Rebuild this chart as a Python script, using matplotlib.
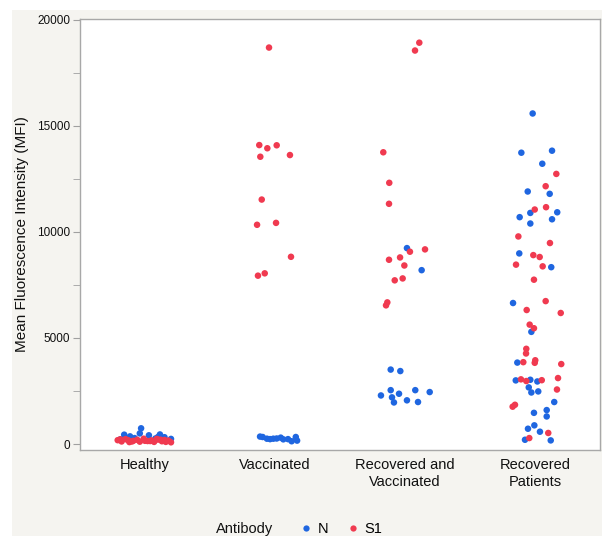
import matplotlib
matplotlib.use("Agg")
import matplotlib.pyplot as plt
from matplotlib.lines import Line2D
from matplotlib.patches import Rectangle
from matplotlib.ticker import MultipleLocator

plt.rcParams["font.family"] = ["Liberation Sans", "DejaVu Sans"]

groups = ["Healthy", "Vaccinated", "Recovered and\nVaccinated", "Recovered\nPatients"]
series = ["N", "S1"]
colors = {"N": "#1f66e0", "S1": "#f03a50"}

# values (MFI), with horizontal jitter in category units
healthy_n = [440, 360, 740, 500, 410, 450, 320, 220, 260, 240, 330, 280]
healthy_n_jit = [-0.16, -0.115, -0.03, -0.04, 0.03, 0.115, 0.15, -0.19, 0.08, 0.20, 0.10, -0.08]
healthy_s1 = [180, 120, 230, 90, 150, 200, 110, 250, 140, 170, 100, 210,
              130, 190, 160, 80, 220, 120, 150, 240, 100, 180, 140, 200]
healthy_s1_jit = [-0.21, -0.18, -0.15, -0.12, -0.09, -0.06, -0.04, -0.01, 0.02, 0.05, 0.07, 0.10,
                  0.13, 0.15, 0.18, 0.20, -0.19, -0.10, 0.0, 0.09, 0.16, -0.13, 0.04, 0.12]

vacc_n = [350, 330, 250, 230, 250, 260, 300, 220, 230, 130, 330, 160]
vacc_n_jit = [-0.115, -0.095, -0.062, -0.038, -0.013, 0.013, 0.044, 0.064, 0.10, 0.128, 0.16, 0.17]
vacc_s1 = [18700, 14100, 13950, 14090, 13550, 13630, 11530, 10340, 10430, 8830, 7940, 8050]
vacc_s1_jit = [-0.046, -0.121, -0.059, 0.013, -0.113, 0.115, -0.102, -0.138, 0.008, 0.123, -0.131, -0.079]

recvac_n = [9240, 8200, 3510, 3440, 2540, 2540, 2450, 2290, 2370, 2200, 1960, 2060, 1980]
recvac_n_jit = [0.015, 0.128, -0.11, -0.036, -0.11, 0.079, 0.19, -0.185, -0.046, -0.10, -0.085, 0.015, 0.10]
recvac_s1 = [18930, 18560, 13760, 12320, 11330, 9180, 9070, 8800, 8690, 8420, 7810, 7720, 6680, 6540]
recvac_s1_jit = [0.11, 0.077, -0.167, -0.121, -0.123, 0.154, 0.038, -0.038, -0.123, -0.005,
                 -0.018, -0.079, -0.136, -0.146]

recpat_n = [15590, 13740, 13835, 13220, 11910, 11800, 10930, 10900, 10700, 10600, 10400,
            8990, 8340, 6650, 5290, 3840, 3000, 3030, 2950, 2670, 2430, 2480, 1980, 1600,
            1470, 1300, 880, 720, 580, 200, 170]
recpat_n_jit = [-0.018, -0.105, 0.131, 0.056, -0.056, 0.113, 0.171, -0.036, -0.118, 0.131, -0.036,
                -0.121, 0.125, -0.169, -0.028, -0.136, -0.148, -0.036, 0.018, -0.048, -0.028, 0.025,
                0.148, 0.09, -0.008, 0.09, -0.005, -0.054, 0.038, -0.077, 0.121]
recpat_s1 = [12740, 12160, 11170, 11060, 9790, 9480, 8910, 8820, 8460, 8380, 7750, 6740,
             6320, 6180, 5630, 5460, 4490, 4270, 3950, 3830, 3860, 3770, 3050, 2970, 3010,
             3110, 2570, 1850, 1760, 520, 280]
recpat_s1_jit = [0.164, 0.082, 0.085, -0.002, -0.128, 0.115, -0.013, 0.036, -0.146, 0.059, -0.008,
                 0.082, -0.064, 0.198, -0.041, -0.008, -0.067, -0.069, 0.002, -0.002, -0.09, 0.202,
                 -0.108, -0.067, 0.052, 0.177, 0.169, -0.154, -0.172, 0.102, -0.044]

data_n = [(healthy_n, healthy_n_jit), (vacc_n, vacc_n_jit),
          (recvac_n, recvac_n_jit), (recpat_n, recpat_n_jit)]
data_s1 = [(healthy_s1, healthy_s1_jit), (vacc_s1, vacc_s1_jit),
           (recvac_s1, recvac_s1_jit), (recpat_s1, recpat_s1_jit)]


fig = plt.figure(figsize=(6.02, 5.36), dpi=100, facecolor="white")
# light grey panel behind the plot
fig.patches.append(Rectangle((12 / 602, 0), 590 / 602, 526 / 536, transform=fig.transFigure,
                             facecolor="#f5f4f0", edgecolor="none", zorder=-10))

ax = fig.add_axes([80 / 602, 86 / 536, 520 / 602, 431 / 536])
ax.set_facecolor("white")

for name, groups_data in (("N", data_n), ("S1", data_s1)):
    for i, (vals, jit) in enumerate(groups_data):
        ax.scatter([i + j for j in jit], vals, s=22, color=colors[name],
                   edgecolors="none", zorder=3)

ax.set_xlim(-0.5, 3.5)
ax.set_ylim(-283, 20047)
ax.set_xticks(range(len(groups)))
ax.set_xticklabels(groups, fontsize=10.5, color="#111111")
ax.yaxis.set_major_locator(MultipleLocator(5000))
ax.yaxis.set_minor_locator(MultipleLocator(2500))
ax.tick_params(axis="x", length=0, pad=6)
ax.tick_params(axis="y", which="both", length=5, color="#a0a0a0", labelsize=8.5,
               labelcolor="#111111", pad=2)
for sp in ax.spines.values():
    sp.set_color("#a8a8a8")
    sp.set_linewidth(1.0)
ax.set_ylabel("Mean Fluorescence Intensity (MFI)", fontsize=11, color="#111111", labelpad=6)

# legend row at the bottom
fig.text(216 / 602, 7 / 536, "Antibody", fontsize=10.5, color="#111111", va="center", ha="left")
handles = [Line2D([], [], linestyle="none", marker="o", markersize=4.5,
                  markerfacecolor=colors[n], markeredgecolor="none") for n in series]
fig.legend(handles, series, loc="center left", bbox_to_anchor=(300 / 602, 7 / 536),
           ncol=2, frameon=False, fontsize=10.5, handlelength=0.8, handletextpad=0.4,
           columnspacing=1.3, borderpad=0, borderaxespad=0)

fig.savefig("out.png", dpi=100, facecolor=fig.get_facecolor())
